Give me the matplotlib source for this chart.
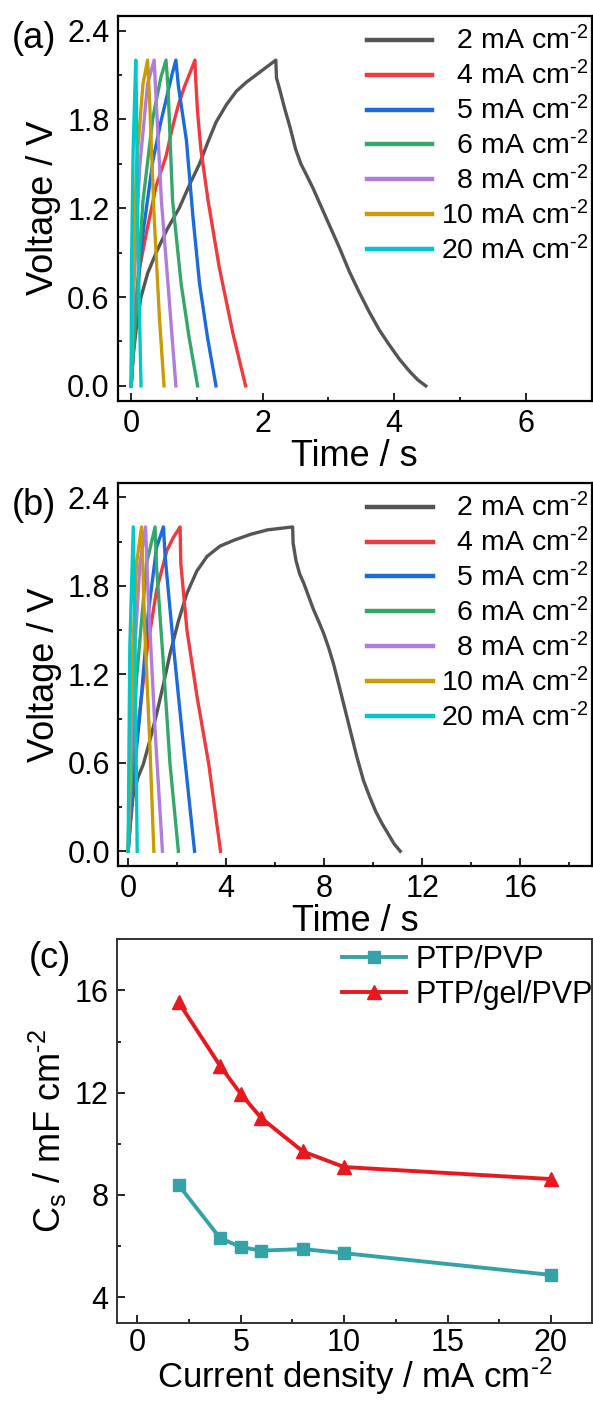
import matplotlib
matplotlib.use("Agg")
import matplotlib.pyplot as plt
from matplotlib.ticker import MultipleLocator, FormatStrFormatter

plt.rcParams['font.family'] = ['Liberation Sans', 'DejaVu Sans']
plt.rcParams['mathtext.fontset'] = 'custom'
plt.rcParams['mathtext.rm'] = 'Liberation Sans'
plt.rcParams['mathtext.it'] = 'Liberation Sans:italic'

# ---------------- data ----------------
SUP = "$^{\\mathregular{\u20102}}$"
labels = ["\u20072 mA cm" + SUP, "\u20074 mA cm" + SUP, "\u20075 mA cm" + SUP,
          "\u20076 mA cm" + SUP, "\u20078 mA cm" + SUP, "10 mA cm" + SUP,
          "20 mA cm" + SUP]
colors = ["#555555", "#F03A3F", "#1C6BDC", "#34A86A", "#B07CDE", "#CC9A06", "#00C8C8"]

# panel (a): time (s) and voltage (V)
a_t_2 = [0, 0.03, 0.08, 0.15, 0.25, 0.38, 0.55, 0.73, 0.90, 1.04, 1.17, 1.29, 1.45,
         1.60, 1.75, 1.90, 2.05, 2.20,
         2.21, 2.26, 2.33, 2.42, 2.50, 2.58, 2.66, 2.76, 2.86, 3.00, 3.17, 3.32,
         3.47, 3.62, 3.77, 3.92, 4.08, 4.23, 4.36, 4.48]
a_v_2 = [0, 0.20, 0.40, 0.60, 0.76, 0.90, 1.06, 1.20, 1.37, 1.50, 1.65, 1.78, 1.90,
         1.99, 2.05, 2.10, 2.15, 2.20,
         2.08, 2.00, 1.88, 1.74, 1.60, 1.50, 1.43, 1.34, 1.24, 1.10, 0.93, 0.77,
         0.63, 0.50, 0.38, 0.28, 0.18, 0.10, 0.04, 0.0]
a_t_4 = [0, 0.05, 0.13, 0.23, 0.38, 0.53, 0.63, 0.72, 0.81, 0.90, 0.97,
         0.98, 1.01, 1.06, 1.17, 1.34, 1.55, 1.74]
a_v_4 = [0, 0.35, 0.80, 1.03, 1.35, 1.55, 1.75, 1.90, 2.02, 2.12, 2.20,
         2.08, 1.85, 1.60, 1.25, 0.80, 0.35, 0.0]
a_t_5 = [0, 0.07, 0.18, 0.33, 0.45, 0.53, 0.62, 0.68, 0.72, 0.84, 0.94, 1.04, 1.16, 1.29]
a_v_5 = [0, 0.55, 1.03, 1.52, 1.78, 1.93, 2.10, 2.20, 2.02, 1.66, 1.14, 0.69, 0.33, 0.0]
a_t_6 = [0, 0.08, 0.18, 0.33, 0.45, 0.53, 0.56, 0.63, 0.76, 0.88, 1.01]
a_v_6 = [0, 0.57, 1.25, 1.81, 2.08, 2.20, 2.02, 1.25, 0.69, 0.33, 0.0]
a_t_8 = [0, 0.03, 0.13, 0.25, 0.35, 0.38, 0.46, 0.56, 0.68]
a_v_8 = [0, 0.57, 1.48, 2.04, 2.20, 1.93, 1.25, 0.69, 0.0]
a_t_10 = [0, 0.03, 0.08, 0.18, 0.25, 0.28, 0.35, 0.43, 0.50]
a_v_10 = [0, 0.80, 1.48, 2.04, 2.20, 1.93, 1.14, 0.46, 0.0]
a_t_20 = [0, 0.005, 0.03, 0.07, 0.08, 0.10, 0.15]
a_v_20 = [0, 0.80, 1.59, 2.20, 1.93, 1.03, 0.0]

# panel (b)
b_t_2 = [0, 0.10, 0.20, 0.40, 0.62, 0.90, 1.16, 1.45, 1.71, 2.05, 2.40, 2.80, 3.22,
         3.75, 4.32, 5.00, 5.68, 6.71,
         6.73, 6.85, 7.00, 7.16, 7.36, 7.56, 7.77, 7.97, 8.18, 8.38, 8.58, 8.79,
         9.06, 9.33, 9.60, 9.85, 10.10, 10.35, 10.60, 10.85, 11.10]
b_v_2 = [0, 0.20, 0.37, 0.50, 0.59, 0.76, 0.93, 1.14, 1.34, 1.56, 1.75, 1.90, 2.00,
         2.07, 2.11, 2.15, 2.18, 2.20,
         2.09, 1.97, 1.88, 1.82, 1.73, 1.64, 1.56, 1.48, 1.38, 1.27, 1.14, 1.00,
         0.82, 0.64, 0.48, 0.37, 0.27, 0.19, 0.12, 0.05, 0.0]
b_t_4 = [0, 0.15, 0.34, 0.75, 1.16, 1.58, 1.85, 2.12, 2.15, 2.40, 2.81, 3.29, 3.77]
b_v_4 = [0, 0.35, 0.75, 1.34, 1.77, 2.04, 2.13, 2.20, 1.95, 1.50, 1.05, 0.59, 0.0]
b_t_5 = [0, 0.20, 0.48, 0.82, 1.16, 1.44, 1.51, 1.85, 2.26, 2.71]
b_v_5 = [0, 0.45, 0.93, 1.61, 2.06, 2.20, 2.00, 1.39, 0.71, 0.0]
b_t_6 = [0, 0.15, 0.34, 0.75, 1.10, 1.16, 1.44, 1.71, 2.05]
b_v_6 = [0, 0.55, 1.16, 1.95, 2.20, 1.93, 1.27, 0.59, 0.0]
b_t_8 = [0, 0.20, 0.48, 0.71, 0.82, 1.10, 1.40]
b_v_8 = [0, 1.16, 1.95, 2.20, 1.73, 0.82, 0.0]
b_t_10 = [0, 0.14, 0.34, 0.55, 0.68, 0.89, 1.05]
b_v_10 = [0, 1.16, 1.95, 2.20, 1.50, 0.71, 0.0]
b_t_20 = [0, 0.07, 0.21, 0.27, 0.37]
b_v_20 = [0, 1.39, 2.20, 1.61, 0.0]

# panel (c)
current_density = [2, 4, 5, 6, 8, 10, 20]
cs_ptp_pvp = [8.38, 6.31, 5.96, 5.82, 5.88, 5.72, 4.87]
cs_ptp_gel_pvp = [15.53, 13.05, 11.95, 11.0, 9.70, 9.09, 8.62]

a_curves = [(a_t_2, a_v_2), (a_t_4, a_v_4), (a_t_5, a_v_5), (a_t_6, a_v_6),
            (a_t_8, a_v_8), (a_t_10, a_v_10), (a_t_20, a_v_20)]
b_curves = [(b_t_2, b_v_2), (b_t_4, b_v_4), (b_t_5, b_v_5), (b_t_6, b_v_6),
            (b_t_8, b_v_8), (b_t_10, b_v_10), (b_t_20, b_v_20)]

# ---------------- figure ----------------
W, H = 593, 1405
fig = plt.figure(figsize=(W / 100, H / 100), dpi=100)

def px_axes(l, t, r, b):
    return fig.add_axes([l / W, 1 - b / H, (r - l) / W, (b - t) / H])

TICK_FS = 22
LABEL_FS = 26
LEG_FS = 20.5

def style(ax, spine_color='black', lw=1.6):
    for s in ax.spines.values():
        s.set_linewidth(lw)
        s.set_color(spine_color)
    ax.tick_params(which='both', direction='in', top=False, right=False,
                   labelsize=TICK_FS, width=1.2, pad=6, colors='black')
    ax.tick_params(which='major', length=6)
    ax.tick_params(which='minor', length=3)

ax_a = px_axes(118, 15.7, 591.5, 400.7)
ax_b = px_axes(118.3, 482.7, 591.5, 866)
ax_c = px_axes(116.7, 939.3, 592.3, 1322.7)

for ax, curves, xl, xmaj, xmin in [(ax_a, a_curves, (-0.2, 7.0), 2, 1),
                                   (ax_b, b_curves, (-0.4, 18.9), 4, 2)]:
    for (t, v), c, lab in zip(curves, colors, labels):
        ax.plot(t, v, color=c, lw=2.4, label=lab, solid_joinstyle='round')
    ax.set_xlim(*xl)
    ax.set_ylim(-0.1, 2.5)
    ax.xaxis.set_major_locator(MultipleLocator(xmaj))
    ax.xaxis.set_minor_locator(MultipleLocator(xmin))
    ax.yaxis.set_major_locator(MultipleLocator(0.6))
    ax.yaxis.set_minor_locator(MultipleLocator(0.3))
    ax.yaxis.set_major_formatter(FormatStrFormatter('%.1f'))
    style(ax)
    ax.set_xlabel("Time / s", fontsize=LABEL_FS, labelpad=0)
    ax.set_ylabel("Voltage / V", fontsize=LABEL_FS, labelpad=4)
    leg = ax.legend(loc='upper left', bbox_to_anchor=((367 - 118) / 473.5, 0.972),
                    frameon=False, fontsize=LEG_FS, borderpad=0, borderaxespad=0,
                    handlelength=2.3, handletextpad=0.3, labelspacing=0.2)
    for line in leg.get_lines():
        line.set_linewidth(3.2)

# panel (c)
ax_c.plot(current_density, cs_ptp_pvp, color="#35A3A6", lw=2.8, marker='s',
          markersize=8.5, label="PTP/PVP")
ax_c.plot(current_density, cs_ptp_gel_pvp, color="#E8191E", lw=2.8, marker='^',
          markersize=10.5, label="PTP/gel/PVP")
ax_c.set_xlim(-1, 22)
ax_c.set_ylim(3, 18)
ax_c.xaxis.set_major_locator(MultipleLocator(5))
ax_c.xaxis.set_minor_locator(MultipleLocator(2.5))
ax_c.yaxis.set_major_locator(MultipleLocator(4))
ax_c.yaxis.set_minor_locator(MultipleLocator(2))
style(ax_c, spine_color='#333333', lw=1.4)
ax_c.tick_params(axis='x', pad=4)
ax_c.set_xlabel("Current density / mA cm" + SUP, fontsize=25, labelpad=-2)
ax_c.set_ylabel("C$_{\\mathregular{s}}$ / mF cm" + SUP, fontsize=LABEL_FS, labelpad=4)
ax_c.legend(loc='upper left', bbox_to_anchor=((342 - 116.7) / 475.6, 0.985),
            frameon=False, fontsize=22, borderpad=0, borderaxespad=0,
            handlelength=2.1, handletextpad=0.3, labelspacing=0.15)

# panel labels
fig.text(12 / W, 1 - 38 / H, "(a)", fontsize=26, va='center', ha='left')
fig.text(12 / W, 1 - 505 / H, "(b)", fontsize=26, va='center', ha='left')
fig.text(29 / W, 1 - 958 / H, "(c)", fontsize=26, va='center', ha='left')

fig.savefig("out.png", dpi=100)
